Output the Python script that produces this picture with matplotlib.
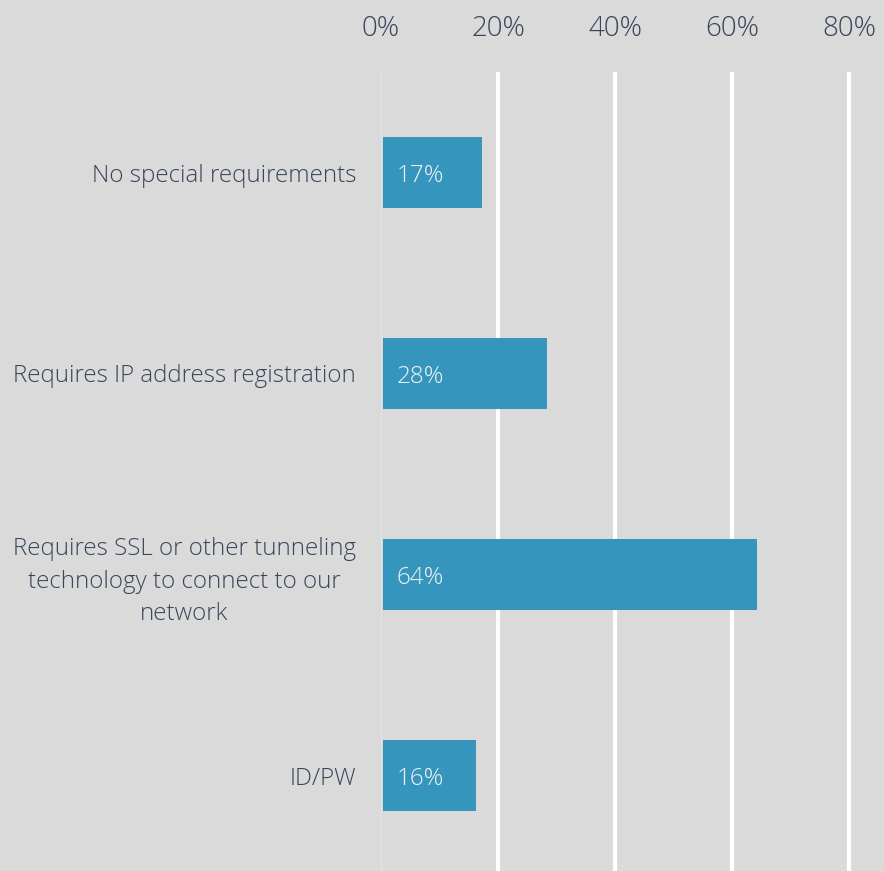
import matplotlib.pyplot as plt
import matplotlib.ticker as mticker

plt.rcParams['font.family'] = ['Open Sans', 'DejaVu Sans']
plt.rcParams['font.weight'] = 'light'

categories = [
    "No special requirements",
    "Requires IP address registration",
    "Requires SSL or other tunneling\ntechnology to connect to our\nnetwork",
    "ID/PW",
]
shares = [17, 28, 64, 16]
ticks = [0, 20, 40, 60, 80]

bg = "#dadada"
bar_color = "#3595bc"
text_color = "#38455a"

fig = plt.figure(figsize=(8.84, 8.71), dpi=100)
fig.patch.set_facecolor(bg)
ax = fig.add_axes([381 / 884, -5 / 871, 503 / 884, (871 - 72 + 5) / 871])
ax.set_facecolor(bg)

y = range(len(categories))
ax.barh(y, shares, height=0.355, color=bar_color, left=0.3, zorder=3)
for yi, v in zip(y, shares):
    ax.text(2.6, yi + 0.015, f"{v}%", va="center", ha="left", fontsize=17.5,
            color="#eef3f6", zorder=4)

ax.set_xlim(0, 86)
ax.set_ylim(len(categories) - 0.5, -0.5)
ax.set_xticks(ticks)
ax.xaxis.set_major_formatter(mticker.FuncFormatter(lambda v, p: f"{v:.0f}%"))
ax.xaxis.tick_top()
ax.tick_params(axis="x", length=0, pad=21, labelsize=20, colors=text_color)
ax.set_yticks(list(y))
ax.set_yticklabels(categories, fontsize=17.4, color=text_color,
                   multialignment="center", linespacing=1.45)
ax.tick_params(axis="y", length=0, pad=18)

for t in ticks:
    if t == 0:
        ax.axvline(t, color="#e6e6e6", lw=1.2, zorder=1)
    else:
        ax.axvline(t, color="white", lw=3, zorder=1)

for s in ax.spines.values():
    s.set_visible(False)

fig.savefig("out.png", dpi=100, facecolor=bg)
